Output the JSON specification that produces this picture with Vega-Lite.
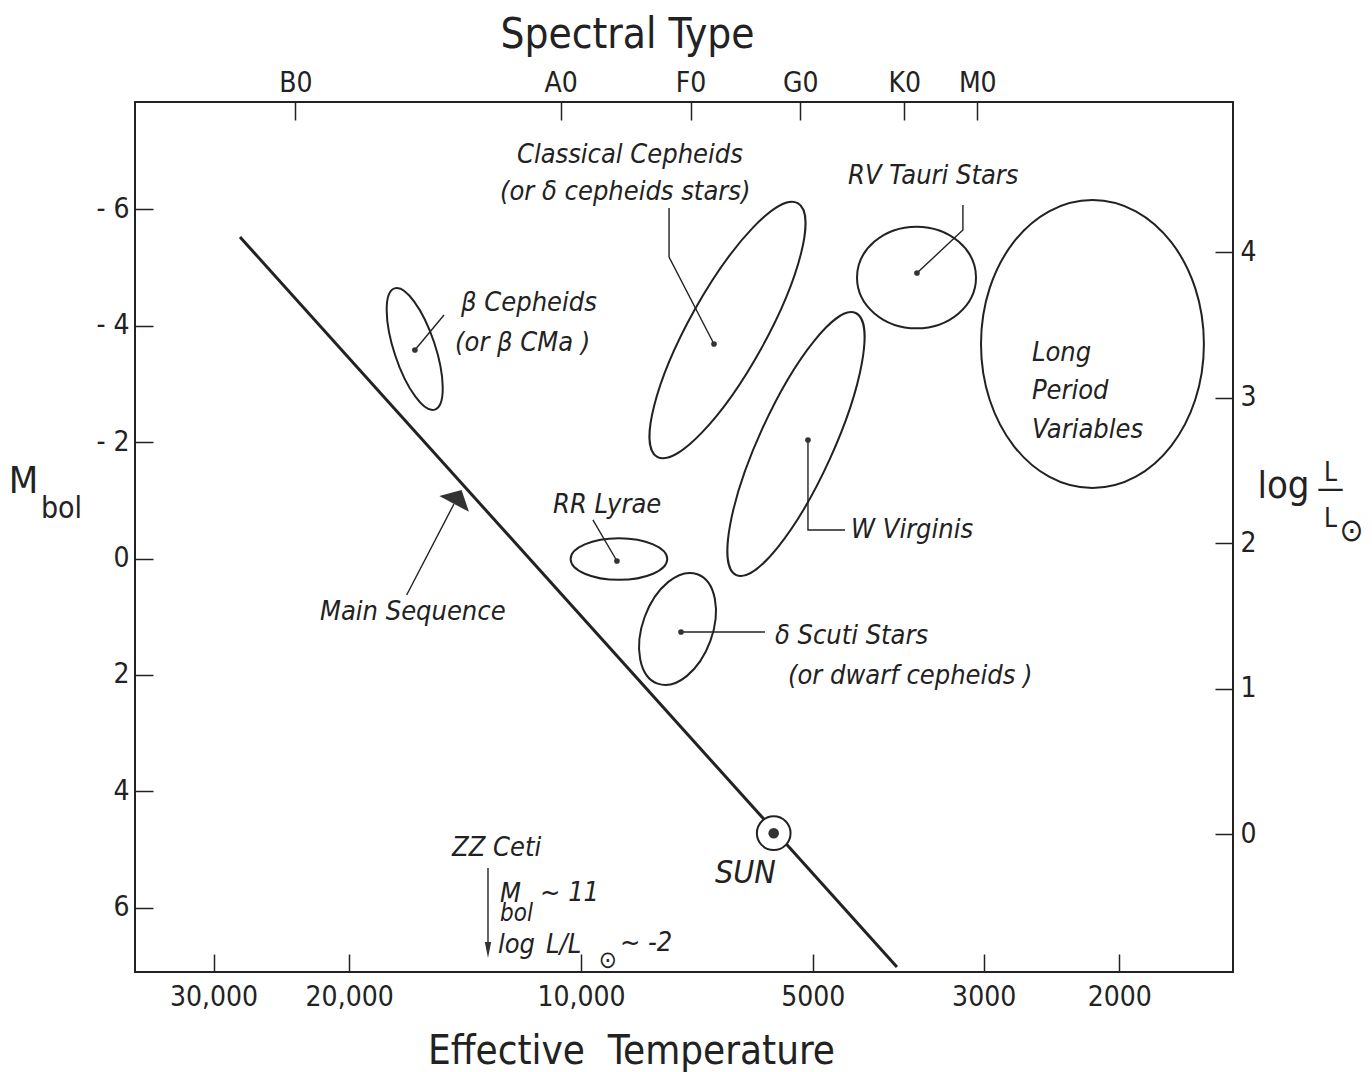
{
  "$schema": "https://vega.github.io/schema/vega-lite/v6.json",
  "width": 1098,
  "height": 870,
  "autosize": {"type": "none"},
  "padding": {"left": 135, "top": 102, "right": 139, "bottom": 100},
  "background": "white",
  "config": {
    "view": {"stroke": "#222", "strokeWidth": 2},
    "axis": {"grid": false, "domain": false, "tickColor": "#222", "tickWidth": 1.5, "tickSize": -18, "labelColor": "#222", "titleColor": "#222", "labelFont": "DejaVu Sans Condensed, Liberation Sans Narrow, DejaVu Sans, sans-serif", "titleFont": "DejaVu Sans Condensed, Liberation Sans Narrow, DejaVu Sans, sans-serif", "labelFontSize": 28, "titleFontWeight": "normal", "labelPadding": 24},
    "text": {"font": "DejaVu Sans Condensed, Liberation Sans Narrow, DejaVu Sans, sans-serif", "fontStyle": "italic", "color": "#222"}
  },
  "resolve": {"axis": {"x": "independent", "y": "independent"}},
  "layer": [
    {
      "data": {"values": [{"T": 27720, "M": -5.524}, {"T": 3888, "M": 7.019}]},
      "mark": {"type": "line", "color": "#222", "strokeWidth": 3},
      "encoding": {
        "x": {"field": "T", "type": "quantitative", "scale": {"type": "log", "domain": [1423.5, 37940], "reverse": true, "nice": false},
          "axis": {"orient": "bottom", "values": [30000, 20000, 10000, 5000, 3000, 2000], "labelExpr": "datum.value >= 10000 ? format(datum.value, ',') : format(datum.value, 'd')", "title": "Effective\u00a0 Temperature", "titleFontSize": 40, "titleX": 496, "titleY": 91, "titleBaseline": "alphabetic", "titleAlign": "center", "labelPadding": 29}},
        "y": {"field": "M", "type": "quantitative", "scale": {"domain": [-7.844, 7.105], "reverse": true, "nice": false, "zero": false},
          "axis": {"orient": "left", "values": [-6, -4, -2, 0, 2, 4, 6], "labelExpr": "datum.value < 0 ? '- ' + (-datum.value) : '' + datum.value", "title": "M", "titleFontSize": 38, "titleAngle": 0, "titleX": -112, "titleY": 379, "titleBaseline": "middle", "titleAlign": "center", "labelPadding": 24}}
      }
    },
    {
      "data": {"values": [
        {"id": "bcep", "seq": 0, "T": 16430, "M": -3.582}, {"id": "bcep", "seq": 1, "T": 15060, "M": -4.184},
        {"id": "ccep", "seq": 0, "T": 6719, "M": -3.686}, {"id": "ccep", "seq": 1, "T": 7685, "M": -5.18}, {"id": "ccep", "seq": 2, "T": 7685, "M": -6.022},
        {"id": "rvtau", "seq": 0, "T": 3662, "M": -4.905}, {"id": "rvtau", "seq": 1, "T": 3192, "M": -5.644}, {"id": "rvtau", "seq": 2, "T": 3192, "M": -6.074},
        {"id": "wvir", "seq": 0, "T": 5073, "M": -2.036}, {"id": "wvir", "seq": 1, "T": 5073, "M": -0.49}, {"id": "wvir", "seq": 2, "T": 4541, "M": -0.49},
        {"id": "rrlyr", "seq": 0, "T": 8981, "M": 0.043}, {"id": "rrlyr", "seq": 1, "T": 9650, "M": -0.662},
        {"id": "dsct", "seq": 0, "T": 7415, "M": 1.263}, {"id": "dsct", "seq": 1, "T": 5769, "M": 1.263},
        {"id": "msarrow", "seq": 0, "T": 16840, "M": 0.627}, {"id": "msarrow", "seq": 1, "T": 14620, "M": -0.936},
        {"id": "zzarrow", "seq": 0, "T": 13205, "M": 5.318}, {"id": "zzarrow", "seq": 1, "T": 13205, "M": 6.641}
      ]},
      "mark": {"type": "line", "color": "#222", "strokeWidth": 1.4},
      "encoding": {
        "x": {"field": "T", "type": "quantitative", "scale": {"type": "log", "domain": [1423.5, 37940], "reverse": true, "nice": false},
          "axis": {"orient": "top", "values": [23480, 10625, 7206, 5190, 3804, 3058], "labelExpr": "datum.value > 20000 ? 'B0' : datum.value > 10000 ? 'A0' : datum.value > 7000 ? 'F0' : datum.value > 5000 ? 'G0' : datum.value > 3500 ? 'K0' : 'M0'", "title": "Spectral Type", "titleFontSize": 42, "titleX": 492, "titleY": -55, "titleBaseline": "alphabetic", "titleAlign": "center", "labelPadding": 23}},
        "y": {"field": "M", "type": "quantitative", "scale": {"domain": [-7.844, 7.105], "reverse": true, "nice": false, "zero": false},
          "axis": {"orient": "left", "labels": false, "ticks": false, "title": "bol", "titleFontSize": 30, "titleAngle": 0, "titleX": -74, "titleY": 406, "titleBaseline": "middle", "titleAlign": "center"}},
        "detail": {"field": "id", "type": "nominal"},
        "order": {"field": "seq", "type": "quantitative"}
      }
    },
    {
      "data": {"values": [{"T": 14450, "M": -1.058}]},
      "mark": {"type": "point", "shape": "M0,-0.473L1,0.473L-1,0.473Z", "size": 1129, "angle": 28, "filled": true, "color": "#333", "opacity": 1},
      "encoding": {
        "x": {"field": "T", "type": "quantitative", "scale": {"type": "log", "domain": [1423.5, 37940], "reverse": true, "nice": false}, "axis": null},
        "y": {"field": "M", "type": "quantitative", "scale": {"domain": [-7.844, 7.105], "reverse": true, "nice": false, "zero": false},
          "axis": {"orient": "right", "values": [-5.26, -2.76, -0.26, 2.24, 4.74], "labelExpr": "format((4.74 - datum.value) / 2.5, '.0f')", "title": "log", "titleFontSize": 38, "titleAngle": 0, "titleX": 50, "titleY": 395, "titleBaseline": "alphabetic", "titleAlign": "center", "labelPadding": 25}}
      }
    },
    {
      "data": {"values": [{"name": "Sun", "T": 5620, "M": 4.72}]},
      "mark": {"type": "point", "shape": "circle", "size": 1134, "filled": true, "fill": "white", "stroke": "#222", "strokeWidth": 2, "opacity": 1},
      "encoding": {
        "x": {"field": "T", "type": "quantitative", "scale": {"type": "log", "domain": [1423.5, 37940], "reverse": true, "nice": false}, "axis": null},
        "y": {"field": "M", "type": "quantitative", "scale": {"domain": [-7.844, 7.105], "reverse": true, "nice": false, "zero": false},
          "axis": {"orient": "right", "labels": false, "ticks": false, "title": "L", "titleFontSize": 26, "titleAngle": 0, "titleX": 97, "titleY": 378, "titleBaseline": "alphabetic", "titleAlign": "center"}}
      }
    },
    {
      "data": {"values": [{"name": "Sun", "T": 5620, "M": 4.72}]},
      "mark": {"type": "point", "shape": "circle", "size": 113, "filled": true, "color": "#333", "opacity": 1},
      "encoding": {
        "x": {"field": "T", "type": "quantitative", "scale": {"type": "log", "domain": [1423.5, 37940], "reverse": true, "nice": false}, "axis": null},
        "y": {"field": "M", "type": "quantitative", "scale": {"domain": [-7.844, 7.105], "reverse": true, "nice": false, "zero": false},
          "axis": {"orient": "right", "labels": false, "ticks": false, "title": "—", "titleFontSize": 30, "titleAngle": 0, "titleX": 97, "titleY": 386, "titleBaseline": "middle", "titleAlign": "center"}}
      }
    },
    {
      "data": {"values": [{"name": "ZZ Ceti", "T": 13205, "M": 6.727}]},
      "mark": {"type": "point", "shape": "M-0.4,-1L0.4,-1L0,1Z", "size": 256, "filled": true, "color": "#333", "opacity": 1},
      "encoding": {
        "x": {"field": "T", "type": "quantitative", "scale": {"type": "log", "domain": [1423.5, 37940], "reverse": true, "nice": false}, "axis": null},
        "y": {"field": "M", "type": "quantitative", "scale": {"domain": [-7.844, 7.105], "reverse": true, "nice": false, "zero": false},
          "axis": {"orient": "right", "labels": false, "ticks": false, "title": "L", "titleFontSize": 26, "titleAngle": 0, "titleX": 97, "titleY": 424, "titleBaseline": "alphabetic", "titleAlign": "center"}}
      }
    },
    {
      "data": {"values": [{"name": "β Cepheids", "T": 16430, "M": -3.582}, {"name": "Classical Cepheids", "T": 6719, "M": -3.686}, {"name": "W Virginis", "T": 5073, "M": -2.036}, {"name": "RV Tauri", "T": 3662, "M": -4.905}, {"name": "RR Lyrae", "T": 8981, "M": 0.043}, {"name": "δ Scuti", "T": 7415, "M": 1.263}]},
      "mark": {"type": "point", "shape": "circle", "size": 32, "filled": true, "color": "#333", "opacity": 1},
      "encoding": {
        "x": {"field": "T", "type": "quantitative", "scale": {"type": "log", "domain": [1423.5, 37940], "reverse": true, "nice": false}, "axis": null},
        "y": {"field": "M", "type": "quantitative", "scale": {"domain": [-7.844, 7.105], "reverse": true, "nice": false, "zero": false},
          "axis": {"orient": "right", "labels": false, "ticks": false, "title": "⊙", "titleFontSize": 32, "titleAngle": 0, "titleX": 118, "titleY": 428, "titleBaseline": "middle", "titleAlign": "center"}}
      }
    },
    {
      "data": {"values": [{"name": "β Cepheids", "T": 16440, "M": -3.6}]},
      "mark": {"type": "point", "shape": "M0,-1C0.1773,-1 0.321,-0.5523 0.321,0C0.321,0.5523 0.1773,1 0,1C-0.1773,1 -0.321,0.5523 -0.321,0C-0.321,-0.5523 -0.1773,-1 0,-1Z", "size": 16333, "angle": -18.4, "filled": false, "stroke": "#222", "strokeWidth": 2, "opacity": 1},
      "encoding": {
        "x": {"field": "T", "type": "quantitative", "scale": {"type": "log", "domain": [1423.5, 37940], "reverse": true, "nice": false}, "axis": null},
        "y": {"field": "M", "type": "quantitative", "scale": {"domain": [-7.844, 7.105], "reverse": true, "nice": false, "zero": false}, "axis": null}
      }
    },
    {
      "data": {"values": [{"name": "Classical Cepheids", "T": 6453, "M": -3.926}]},
      "mark": {"type": "point", "shape": "M0,-1C0.1466,-1 0.2655,-0.5523 0.2655,0C0.2655,0.5523 0.1466,1 0,1C-0.1466,1 -0.2655,0.5523 -0.2655,0C-0.2655,-0.5523 -0.1466,-1 0,-1Z", "size": 84100, "angle": 29, "filled": false, "stroke": "#222", "strokeWidth": 2, "opacity": 1},
      "encoding": {
        "x": {"field": "T", "type": "quantitative", "scale": {"type": "log", "domain": [1423.5, 37940], "reverse": true, "nice": false}, "axis": null},
        "y": {"field": "M", "type": "quantitative", "scale": {"domain": [-7.844, 7.105], "reverse": true, "nice": false, "zero": false}, "axis": null}
      }
    },
    {
      "data": {"values": [{"name": "W Virginis", "T": 5258, "M": -1.967}]},
      "mark": {"type": "point", "shape": "M0,-1C0.1419,-1 0.257,-0.5523 0.257,0C0.257,0.5523 0.1419,1 0,1C-0.1419,1 -0.257,0.5523 -0.257,0C-0.257,-0.5523 -0.1419,-1 0,-1Z", "size": 82944, "angle": 24.5, "filled": false, "stroke": "#222", "strokeWidth": 2, "opacity": 1},
      "encoding": {
        "x": {"field": "T", "type": "quantitative", "scale": {"type": "log", "domain": [1423.5, 37940], "reverse": true, "nice": false}, "axis": null},
        "y": {"field": "M", "type": "quantitative", "scale": {"domain": [-7.844, 7.105], "reverse": true, "nice": false, "zero": false}, "axis": null}
      }
    },
    {
      "data": {"values": [{"name": "RV Tauri Stars", "T": 3667, "M": -4.828}]},
      "mark": {"type": "point", "shape": "M0,-1C0.4717,-1 0.854,-0.5523 0.854,0C0.854,0.5523 0.4717,1 0,1C-0.4717,1 -0.854,0.5523 -0.854,0C-0.854,-0.5523 -0.4717,-1 0,-1Z", "size": 14161, "angle": 90, "filled": false, "stroke": "#222", "strokeWidth": 2, "opacity": 1},
      "encoding": {
        "x": {"field": "T", "type": "quantitative", "scale": {"type": "log", "domain": [1423.5, 37940], "reverse": true, "nice": false}, "axis": null},
        "y": {"field": "M", "type": "quantitative", "scale": {"domain": [-7.844, 7.105], "reverse": true, "nice": false, "zero": false}, "axis": null}
      }
    },
    {
      "data": {"values": [{"name": "Long Period Variables", "T": 2167, "M": -3.686}]},
      "mark": {"type": "point", "shape": "M0,-1C0.4275,-1 0.774,-0.5523 0.774,0C0.774,0.5523 0.4275,1 0,1C-0.4275,1 -0.774,0.5523 -0.774,0C-0.774,-0.5523 -0.4275,-1 0,-1Z", "size": 82944, "angle": 0, "filled": false, "stroke": "#222", "strokeWidth": 2, "opacity": 1},
      "encoding": {
        "x": {"field": "T", "type": "quantitative", "scale": {"type": "log", "domain": [1423.5, 37940], "reverse": true, "nice": false}, "axis": null},
        "y": {"field": "M", "type": "quantitative", "scale": {"domain": [-7.844, 7.105], "reverse": true, "nice": false, "zero": false}, "axis": null}
      }
    },
    {
      "data": {"values": [{"name": "RR Lyrae", "T": 8927, "M": 0.009}]},
      "mark": {"type": "point", "shape": "M0,-1C0.238,-1 0.431,-0.5523 0.431,0C0.431,0.5523 0.238,1 0,1C-0.238,1 -0.431,0.5523 -0.431,0C-0.431,-0.5523 -0.238,-1 0,-1Z", "size": 9332, "angle": 90, "filled": false, "stroke": "#222", "strokeWidth": 2, "opacity": 1},
      "encoding": {
        "x": {"field": "T", "type": "quantitative", "scale": {"type": "log", "domain": [1423.5, 37940], "reverse": true, "nice": false}, "axis": null},
        "y": {"field": "M", "type": "quantitative", "scale": {"domain": [-7.844, 7.105], "reverse": true, "nice": false, "zero": false}, "axis": null}
      }
    },
    {
      "data": {"values": [{"name": "δ Scuti Stars", "T": 7493, "M": 1.211}]},
      "mark": {"type": "point", "shape": "M0,-1C0.332,-1 0.601,-0.5523 0.601,0C0.601,0.5523 0.332,1 0,1C-0.332,1 -0.601,0.5523 -0.601,0C-0.601,-0.5523 -0.332,-1 0,-1Z", "size": 13549, "angle": 20, "filled": false, "stroke": "#222", "strokeWidth": 2, "opacity": 1},
      "encoding": {
        "x": {"field": "T", "type": "quantitative", "scale": {"type": "log", "domain": [1423.5, 37940], "reverse": true, "nice": false}, "axis": null},
        "y": {"field": "M", "type": "quantitative", "scale": {"domain": [-7.844, 7.105], "reverse": true, "nice": false, "zero": false}, "axis": null}
      }
    },
    {
      "data": {"values": [
        {"text": "Classical Cepheids", "T": 12110, "M": -6.933},
        {"text": "(or δ cepheids stars)", "T": 12740, "M": -6.297},
        {"text": "RV Tauri Stars", "T": 4500, "M": -6.572},
        {"text": "β Cepheids", "T": 14310, "M": -4.39},
        {"text": "(or β CMa )", "T": 14570, "M": -3.703},
        {"text": "Long", "T": 2597, "M": -3.531},
        {"text": "Period", "T": 2597, "M": -2.878},
        {"text": "Variables", "T": 2597, "M": -2.208},
        {"text": "RR Lyrae", "T": 10870, "M": -0.919},
        {"text": "W Virginis", "T": 4460, "M": -0.49},
        {"text": "δ Scuti Stars", "T": 5600, "M": 1.332},
        {"text": "(or dwarf cepheids )", "T": 5385, "M": 2.019},
        {"text": "Main Sequence", "T": 21820, "M": 0.919},
        {"text": "ZZ Ceti", "T": 14700, "M": 4.974},
        {"text": "M", "T": 12740, "M": 5.765},
        {"text": "~ 11", "T": 11300, "M": 5.747},
        {"text": "log", "T": 12820, "M": 6.641},
        {"text": "L/L", "T": 11100, "M": 6.641},
        {"text": "~ -2", "T": 8900, "M": 6.607}
      ]},
      "mark": {"type": "text", "align": "left", "baseline": "middle", "fontSize": 27},
      "encoding": {
        "x": {"field": "T", "type": "quantitative", "scale": {"type": "log", "domain": [1423.5, 37940], "reverse": true, "nice": false}, "axis": null},
        "y": {"field": "M", "type": "quantitative", "scale": {"domain": [-7.844, 7.105], "reverse": true, "nice": false, "zero": false}, "axis": null},
        "text": {"field": "text", "type": "nominal"}
      }
    },
    {
      "data": {"values": [{"text": "SUN", "T": 6699, "M": 5.404}]},
      "mark": {"type": "text", "align": "left", "baseline": "middle", "fontSize": 32},
      "encoding": {
        "x": {"field": "T", "type": "quantitative", "scale": {"type": "log", "domain": [1423.5, 37940], "reverse": true, "nice": false}, "axis": null},
        "y": {"field": "M", "type": "quantitative", "scale": {"domain": [-7.844, 7.105], "reverse": true, "nice": false, "zero": false}, "axis": null},
        "text": {"field": "text", "type": "nominal"}
      }
    },
    {
      "data": {"values": [{"text": "bol", "T": 12740, "M": 6.11}, {"text": "⊙", "T": 9480, "M": 6.92}]},
      "mark": {"type": "text", "align": "left", "baseline": "middle", "fontSize": 24},
      "encoding": {
        "x": {"field": "T", "type": "quantitative", "scale": {"type": "log", "domain": [1423.5, 37940], "reverse": true, "nice": false}, "axis": null},
        "y": {"field": "M", "type": "quantitative", "scale": {"domain": [-7.844, 7.105], "reverse": true, "nice": false, "zero": false}, "axis": null},
        "text": {"field": "text", "type": "nominal"}
      }
    }
  ]
}
